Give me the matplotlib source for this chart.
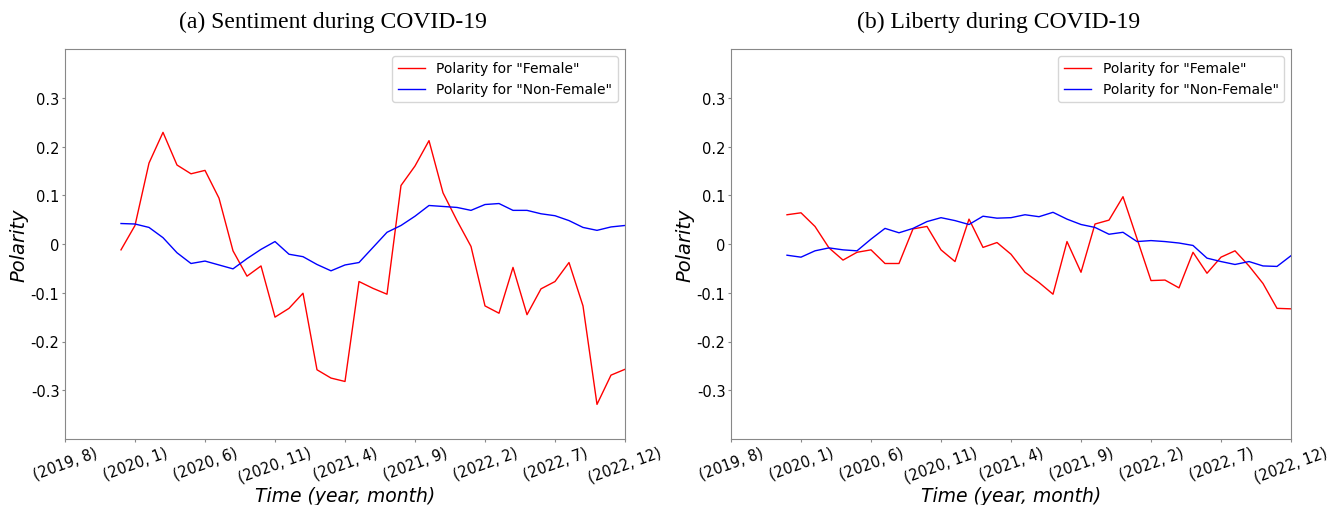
import numpy as np
import matplotlib
matplotlib.use("Agg")
import matplotlib.pyplot as plt

plt.rcParams["axes.unicode_minus"] = False

# month index 0 = (2019, 8); data runs from (2019, 12) to (2022, 12)
tick_labels = ["(2019, 8)", "(2020, 1)", "(2020, 6)", "(2020, 11)", "(2021, 4)",
               "(2021, 9)", "(2022, 2)", "(2022, 7)", "(2022, 12)"]
months = list(range(4, 41))

senti_female = [-0.012, 0.038, 0.166, 0.229, 0.162, 0.144, 0.151, 0.094, -0.014,
                -0.066, -0.045, -0.150, -0.132, -0.101, -0.258, -0.275, -0.282,
                -0.077, -0.091, -0.103, 0.120, 0.160, 0.212, 0.105, 0.048, -0.005,
                -0.127, -0.142, -0.048, -0.145, -0.092, -0.077, -0.038, -0.127,
                -0.329, -0.269, -0.257]
senti_nonfemale = [0.042, 0.041, 0.034, 0.013, -0.018, -0.040, -0.035, -0.043, -0.051,
                   -0.030, -0.011, 0.005, -0.021, -0.026, -0.042, -0.055, -0.043,
                   -0.038, -0.007, 0.024, 0.038, 0.057, 0.079, 0.077, 0.075, 0.069,
                   0.081, 0.083, 0.069, 0.069, 0.062, 0.058, 0.048, 0.034, 0.028,
                   0.035, 0.038]

liberty_female = [0.060, 0.064, 0.036, -0.008, -0.033, -0.017, -0.012, -0.040, -0.040,
                  0.031, 0.036, -0.012, -0.036, 0.051, -0.007, 0.003, -0.021, -0.058,
                  -0.079, -0.103, 0.005, -0.058, 0.041, 0.049, 0.097, 0.011, -0.075,
                  -0.074, -0.090, -0.017, -0.060, -0.027, -0.014, -0.045, -0.081,
                  -0.132, -0.133]
liberty_nonfemale = [-0.023, -0.027, -0.014, -0.008, -0.012, -0.014, 0.010, 0.032, 0.023,
                     0.032, 0.046, 0.054, 0.048, 0.040, 0.057, 0.053, 0.054, 0.060,
                     0.056, 0.065, 0.051, 0.040, 0.034, 0.020, 0.024, 0.005, 0.007,
                     0.005, 0.002, -0.003, -0.029, -0.036, -0.042, -0.036, -0.045,
                     -0.046, -0.024]

panels = [("(a) Sentiment during COVID-19", senti_female, senti_nonfemale),
          ("(b) Liberty during COVID-19", liberty_female, liberty_nonfemale)]
lefts = [65 / 1340, 731 / 1340]

fig = plt.figure(figsize=(13.4, 5.06), dpi=100)

for left, (title, female, nonfemale) in zip(lefts, panels):
    ax = fig.add_axes([left, 66 / 506, 560 / 1340, 390 / 506])
    ax.plot(months, female, color="red", lw=1.0, label='Polarity for "Female"')
    ax.plot(months, nonfemale, color="blue", lw=1.0, label='Polarity for "Non-Female"')

    ax.set_xlim(0, 40)
    ax.set_ylim(-0.4, 0.4)
    ax.set_xticks(range(0, 41, 5))
    ax.set_xticklabels(tick_labels, rotation=20, fontsize=10.5)
    yt = [-0.3, -0.2, -0.1, 0, 0.1, 0.2, 0.3]
    ax.set_yticks(yt)
    ax.set_yticklabels(["-0.3", "-0.2", "-0.1", "0", "0.1", "0.2", "0.3"], fontsize=10.5)
    ax.tick_params(color="#888888", length=2.5, pad=1.5)
    for s in ax.spines.values():
        s.set_color("#888888")

    ax.set_xlabel("Time (year, month)", fontsize=13.5, style="italic", labelpad=1)
    ax.set_ylabel("Polarity", fontsize=14, style="italic")
    ax.yaxis.set_label_coords(-0.066, 0.5)
    ax.set_title(title, fontsize=17, family="Liberation Serif", pad=16, x=0.478)
    ax.legend(loc="upper right", fontsize=10)

fig.savefig("out.png", dpi=100)
